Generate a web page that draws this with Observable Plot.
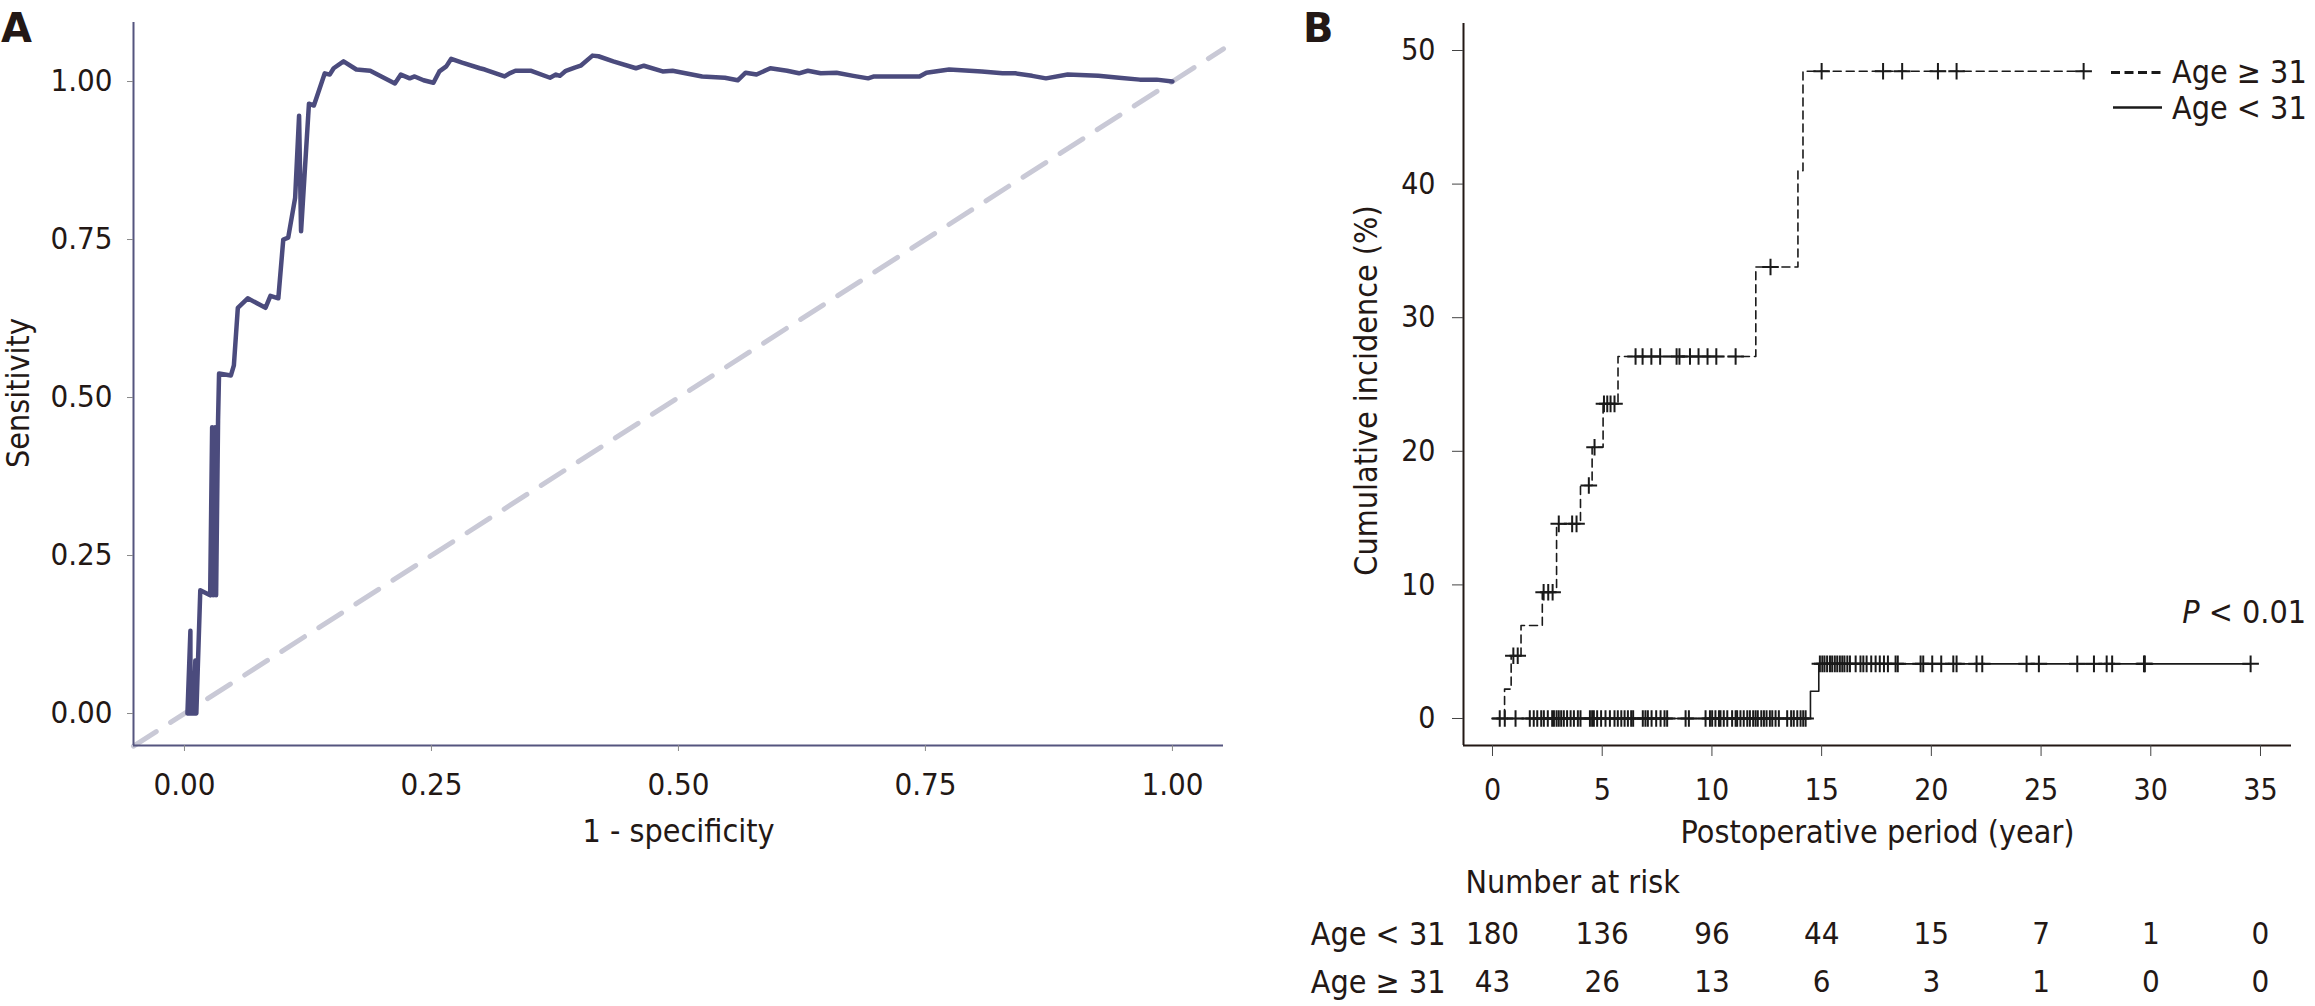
<!DOCTYPE html>
<html>
<head>
<meta charset="utf-8">
<script src="https://cdn.jsdelivr.net/npm/d3@7"></script>
<script src="https://cdn.jsdelivr.net/npm/@observablehq/plot@0.6"></script>
<style>
html,body{margin:0;padding:0;background:#fff;overflow:hidden;}
#fig{position:relative;width:2315px;height:1006px;overflow:hidden;background:#fff;}
#fig svg{position:absolute;overflow:visible;}
</style>
</head>
<body>
<div id="fig"></div>
<script>
// ---------------- DATA ----------------
// Panel A: ROC curve (1 - specificity, sensitivity)
const rocFpr = [0.003,0.006,0.006,0.009,0.011,0.012,0.016,0.026,0.028,0.029,
  0.031,0.032,0.034,0.035,0.047,0.050,0.054,0.064,0.082,0.087,
  0.095,0.100,0.105,0.112,0.116,0.118,0.126,0.131,0.142,0.147,
  0.151,0.161,0.174,0.188,0.213,0.219,0.228,0.233,0.242,0.252,
  0.258,0.265,0.270,0.281,0.299,0.304,0.324,0.329,0.335,0.351,
  0.370,0.376,0.380,0.386,0.395,0.401,0.413,0.419,0.434,0.457,
  0.465,0.484,0.494,0.524,0.547,0.560,0.568,0.579,0.593,0.610,
  0.622,0.631,0.644,0.660,0.677,0.692,0.698,0.744,0.751,0.774,
  0.807,0.828,0.841,0.858,0.872,0.894,0.925,0.946,0.967,0.984,1.000];
const rocTpr = [0,0.131,0,0,0.084,0,0.195,0.187,0.453,0.187,
  0.453,0.187,0.464,0.538,0.535,0.551,0.642,0.657,0.642,0.661,
  0.657,0.750,0.753,0.816,0.946,0.763,0.965,0.962,1.013,1.011,
  1.021,1.032,1.019,1.017,0.997,1.011,1.005,1.008,1.002,0.998,
  1.016,1.024,1.036,1.030,1.021,1.019,1.008,1.013,1.017,1.017,
  1.006,1.011,1.009,1.017,1.022,1.025,1.041,1.040,1.032,1.021,
  1.025,1.016,1.017,1.008,1.006,1.002,1.014,1.011,1.021,1.017,
  1.013,1.017,1.013,1.014,1.009,1.005,1.008,1.008,1.014,1.019,
  1.016,1.013,1.013,1.009,1.005,1.011,1.009,1.006,1.003,1.003,1.000];
const xTicksA = [0, 0.25, 0.5, 0.75, 1];
const yTicksA = [0, 0.25, 0.5, 0.75, 1];

// Panel B: cumulative incidence step curves
const oldTime = [0, 0.55, 0.85, 1.3, 2.27, 2.92, 4.01, 4.54, 5.04, 5.72, 12.0, 13.92, 14.15, 26.94];
const oldInc  = [0, 2.2, 4.7, 6.96, 9.45, 14.57, 17.44, 20.3, 23.55, 27.1, 33.8, 41.0, 48.45, 48.45];
const youngTime = [0, 14.49, 14.87, 34.55];
const youngInc  = [0, 2.04, 4.09, 4.09];
// censoring times
const oldCensor = [0.95, 1.15, 2.33, 2.54, 2.74, 3.02, 3.63, 3.83, 4.39, 4.65, 5.08, 5.23, 5.38, 5.56,
  6.52, 6.84, 7.24, 7.64, 8.39, 8.52, 9.0, 9.39, 9.8, 10.2, 11.08, 12.67, 15.0, 17.8, 18.67, 20.3, 21.15, 26.94];
const youngCensor = [0.33, 0.56, 1.05, 1.70, 1.88, 2.04, 2.22, 2.34, 2.52, 2.72, 2.80, 2.92, 3.02, 3.13, 3.25,
  3.40, 3.56, 3.71, 3.89, 4.01, 4.44, 4.54, 4.62, 4.77, 4.95, 5.15, 5.35, 5.56, 5.71, 5.87, 6.02, 6.17,
  6.32, 6.41, 6.85, 6.97, 7.08, 7.25, 7.46, 7.66, 7.84, 7.96, 8.80, 8.95, 9.71, 9.91, 10.01, 10.16,
  10.32, 10.39, 10.54, 10.70, 10.92, 11.08, 11.15, 11.30, 11.45, 11.61, 11.73, 11.88, 11.99, 12.09,
  12.25, 12.37, 12.49, 12.64, 12.75, 12.90, 13.05, 13.43, 13.61, 13.73, 13.89, 14.04, 14.16, 14.27,
  14.92, 15.03, 15.13, 15.25, 15.38, 15.48, 15.60, 15.71, 15.83, 15.94, 16.04, 16.17, 16.29, 16.55,
  16.77, 16.90, 17.05, 17.26, 17.46, 17.65, 17.84, 18.02, 18.37, 18.47, 19.51, 19.63, 20.04, 20.45,
  21.00, 21.15, 22.06, 22.32, 24.34, 24.90, 26.65, 27.41, 27.99, 28.24, 29.69, 29.73, 34.55];
const xTicksB = [0, 5, 10, 15, 20, 25, 30, 35];
const yTicksB = [0, 10, 20, 30, 40, 50];

// Number at risk
const riskGroups = ["Age < 31", "Age \u2265 31"];
const riskTimes = [0, 5, 10, 15, 20, 25, 30, 35];
const riskYoung = [180, 136, 96, 44, 15, 7, 1, 0];
const riskOld   = [43, 26, 13, 6, 3, 1, 0, 0];

// ---------------- FONTS ----------------
function fontAvailable(name) {
  const ctx = document.createElement("canvas").getContext("2d");
  const s = "Postoperative 0123456789 Age mmWWiil";
  ctx.font = "40px monospace"; const w1 = ctx.measureText(s).width;
  ctx.font = `40px "${name}", monospace`; const w2 = ctx.measureText(s).width;
  return Math.abs(w1 - w2) > 0.5;
}
const FONT = fontAvailable("DejaVu Sans Condensed")
  ? '"DejaVu Sans Condensed", "DejaVu Sans", sans-serif'
  : '"Noto Sans", "DejaVu Sans", sans-serif';
const TXT = "#231815";
const fig = document.getElementById("fig");

// ---------------- PANEL A ----------------
const xDomA = [-0.0516, 1.0517], yDomA = [-0.0506, 1.0934];
const roc = rocFpr.map((x, i) => ({fpr: x, tpr: rocTpr[i]}));
const diag = xDomA.map(v => ({x: v, y: v}));
const svgA = Plot.plot({
  width: 1300, height: 860,
  marginLeft: 133, marginRight: 77, marginTop: 22, marginBottom: 115,
  style: {fontFamily: FONT, background: "none", overflow: "visible", color: TXT},
  x: {domain: xDomA}, y: {domain: yDomA},
  marks: [
    Plot.line(diag, {x: "x", y: "y", stroke: "#c9c9d6", strokeWidth: 5, strokeDasharray: "27,17"}),
    Plot.ruleX([xDomA[0]], {stroke: "#55557f", strokeWidth: 2}),
    Plot.ruleY([yDomA[0]], {stroke: "#55557f", strokeWidth: 2}),
    Plot.axisX(xTicksA, {tickFormat: d3.format(".2f"), tickSize: 6, tickPadding: 21, fontSize: 31, stroke: "#8a8a8a", fill: TXT, label: null}),
    Plot.axisY(yTicksA, {tickFormat: d3.format(".2f"), tickSize: 6, tickPadding: 15, fontSize: 31, stroke: "#8a8a8a", fill: TXT, label: null}),
    Plot.line(roc, {x: "fpr", y: "tpr", stroke: "#4b4b7d", strokeWidth: 4.5, strokeLinejoin: "round"}),
    Plot.text(["1 - specificity"], {frameAnchor: "bottom", lineAnchor: "bottom", dy: 96, fontSize: 32, fill: TXT}),
    Plot.text(["Sensitivity"], {frameAnchor: "left", textAnchor: "middle", rotate: -90, lineAnchor: "bottom", dx: -105, dy: 9, fontSize: 32, fill: TXT})
  ]
});
svgA.style.left = "0px"; svgA.style.top = "0px";
d3.select(svgA).append("text").attr("x", 1).attr("y", 42).attr("text-anchor", "start")
  .attr("font-family", '"DejaVu Sans", sans-serif').attr("font-weight", "bold")
  .attr("font-size", 40).attr("fill", TXT).text("A");
fig.appendChild(svgA);

// ---------------- PANEL B ----------------
const xDomB = [-1.3216, 36.413], yDomB = [-2.021, 52.021];
const oldCurve = oldTime.map((t, i) => ({t, inc: oldInc[i]}));
const youngCurve = youngTime.map((t, i) => ({t, inc: youngInc[i]}));
function stepValue(times, incs, t) {
  const i = d3.bisectRight(times, t) - 1;
  return incs[Math.max(0, i)];
}
const oldCens = oldCensor.map(t => ({t, inc: stepValue(oldTime, oldInc, t)}));
const youngCens = youngCensor.map(t => ({t, inc: stepValue(youngTime, youngInc, t)}));
const KM = "#1a1a1a";
const svgB = Plot.plot({
  width: 1015, height: 850,
  marginLeft: 163, marginRight: 24, marginTop: 23, marginBottom: 105,
  style: {fontFamily: FONT, background: "none", overflow: "visible", color: TXT},
  x: {domain: xDomB}, y: {domain: yDomB},
  marks: [
    Plot.ruleX([xDomB[0]], {stroke: TXT, strokeWidth: 2}),
    Plot.ruleY([yDomB[0]], {stroke: TXT, strokeWidth: 2}),
    Plot.axisX(xTicksB, {tickSize: 11, tickPadding: 22, fontSize: 30, stroke: "#444", fill: TXT, label: null}),
    Plot.axisY(yTicksB, {tickSize: 11, tickPadding: 17, fontSize: 30, stroke: "#444", fill: TXT, label: null}),
    Plot.line(oldCurve, {x: "t", y: "inc", curve: "step-after", stroke: KM, strokeWidth: 1.6, strokeDasharray: "8,5"}),
    Plot.line(youngCurve, {x: "t", y: "inc", curve: "step-after", stroke: KM, strokeWidth: 1.6}),
    Plot.dot(oldCens, {x: "t", y: "inc", symbol: "plus", r: 5.4, stroke: KM, strokeWidth: 2}),
    Plot.dot(youngCens, {x: "t", y: "inc", symbol: "plus", r: 5.4, stroke: KM, strokeWidth: 2}),
    Plot.text(["Postoperative period (year)"], {frameAnchor: "bottom", lineAnchor: "bottom", dy: 97, fontSize: 32, fill: TXT}),
    Plot.text(["Cumulative incidence (%)"], {frameAnchor: "left", textAnchor: "middle", rotate: -90, lineAnchor: "bottom", dx: -87, dy: 6, fontSize: 32, fill: TXT})
  ]
});
svgB.style.left = "1300px"; svgB.style.top = "0px";
const gB = d3.select(svgB);
gB.append("text").attr("x", 3).attr("y", 42).attr("text-anchor", "start")
  .attr("font-family", '"DejaVu Sans", sans-serif').attr("font-weight", "bold")
  .attr("font-size", 40).attr("fill", TXT).text("B");
// legend
const leg = gB.append("g").attr("font-family", FONT).attr("font-size", 32).attr("fill", TXT).attr("text-anchor", "start");
leg.append("line").attr("x1", 811).attr("x2", 861).attr("y1", 72.5).attr("y2", 72.5)
  .attr("stroke", KM).attr("stroke-width", 3).attr("stroke-dasharray", "9,4.5");
leg.append("text").attr("x", 872).attr("y", 83).text(riskGroups[1]);
leg.append("line").attr("x1", 813).attr("x2", 862).attr("y1", 107.5).attr("y2", 107.5)
  .attr("stroke", KM).attr("stroke-width", 2.5);
leg.append("text").attr("x", 872).attr("y", 118.5).text(riskGroups[0]);
// p value
const pt = gB.append("text").attr("x", 1006).attr("y", 623).attr("text-anchor", "end")
  .attr("font-family", FONT).attr("font-size", 32).attr("fill", TXT);
pt.append("tspan").attr("font-style", "italic").text("P");
pt.append("tspan").text(" < 0.01");
fig.appendChild(svgB);

// ---------------- NUMBER AT RISK ----------------
const riskRows = [];
riskTimes.forEach((t, i) => {
  riskRows.push({t, group: riskGroups[0], n: riskYoung[i]});
  riskRows.push({t, group: riskGroups[1], n: riskOld[i]});
});
const svgR = Plot.plot({
  width: 1015, height: 156,
  marginLeft: 163, marginRight: 24, marginTop: 0, marginBottom: 0,
  style: {fontFamily: FONT, background: "none", overflow: "visible", color: TXT},
  x: {domain: xDomB, axis: null},
  y: {type: "point", domain: riskGroups, range: [84, 132], padding: 0},
  marks: [
    Plot.axisY({tickSize: 0, tickPadding: 18, fontSize: 32, fill: TXT, label: null}),
    Plot.text(riskRows, {x: "t", y: "group", text: d => String(d.n), fontSize: 31, fill: TXT}),
    Plot.text(["Number at risk"], {frameAnchor: "top-left", textAnchor: "start", lineAnchor: "bottom", dx: 2, dy: 42, fontSize: 32, fill: TXT})
  ]
});
svgR.style.left = "1300px"; svgR.style.top = "850px";
fig.appendChild(svgR);
</script>
</body>
</html>
